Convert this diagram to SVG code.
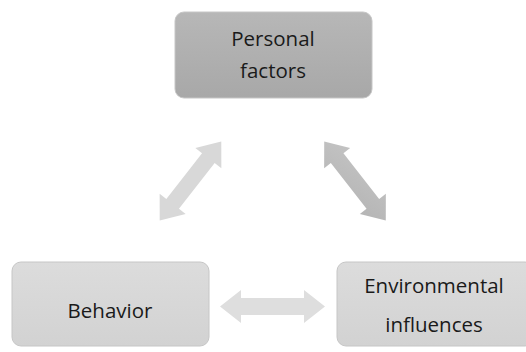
<svg xmlns="http://www.w3.org/2000/svg" width="526" height="352" viewBox="0 0 526 352">
<defs>
<linearGradient id="gTop" x1="0" y1="0" x2="0" y2="1"><stop offset="0" stop-color="#b7b7b7"/><stop offset="1" stop-color="#a8a8a8"/></linearGradient>
<linearGradient id="gBot" x1="0" y1="0" x2="0" y2="1"><stop offset="0" stop-color="#dcdcdc"/><stop offset="1" stop-color="#d2d2d2"/></linearGradient>
<linearGradient id="gR" x1="0" y1="0" x2="1" y2="1"><stop offset="0" stop-color="#c4c4c4"/><stop offset="1" stop-color="#b4b4b4"/></linearGradient>
</defs>
<style>
.box{stroke:#c6c6c6;stroke-width:1}
.t{font-family:"Open Sans","DejaVu Sans",sans-serif;font-size:20.5px;fill:#1a1a1a;text-anchor:middle}
</style>
<rect width="526" height="352" fill="#ffffff"/>
<g id="connectors">
<path id="a-h" d="M220,306.5 L241,290 L241,298 L304,298 L304,290 L325,306.5 L304,323 L304,315 L241,315 L241,323 Z" fill="#dedede"/>
<path id="a-l" transform="translate(190.5,181) rotate(-52)" d="M-50,0 L-29,-16.5 L-29,-8 L29,-8 L29,-16.5 L50,0 L29,16.5 L29,8 L-29,8 L-29,16.5 Z" fill="#d8d8d8"/>
<path id="a-r" transform="translate(355,181) rotate(52)" d="M-50,0 L-29,-16.5 L-29,-8 L29,-8 L29,-16.5 L50,0 L29,16.5 L29,8 L-29,8 L-29,16.5 Z" fill="url(#gR)"/>
</g>
<g id="personal">
<rect class="box" x="175" y="12" width="197" height="86" rx="9" fill="url(#gTop)"/>
<text class="t" x="273" y="46">Personal</text>
<text class="t" x="273" y="78">factors</text>
</g>
<g id="behavior">
<rect class="box" x="12" y="262" width="197" height="84" rx="9" fill="url(#gBot)"/>
<text class="t" x="110" y="318">Behavior</text>
</g>
<g id="environment">
<rect class="box" x="337" y="262" width="197" height="84" rx="9" fill="url(#gBot)"/>
<text class="t" x="434" y="293">Environmental</text>
<text class="t" x="434" y="332">influences</text>
</g>
</svg>
